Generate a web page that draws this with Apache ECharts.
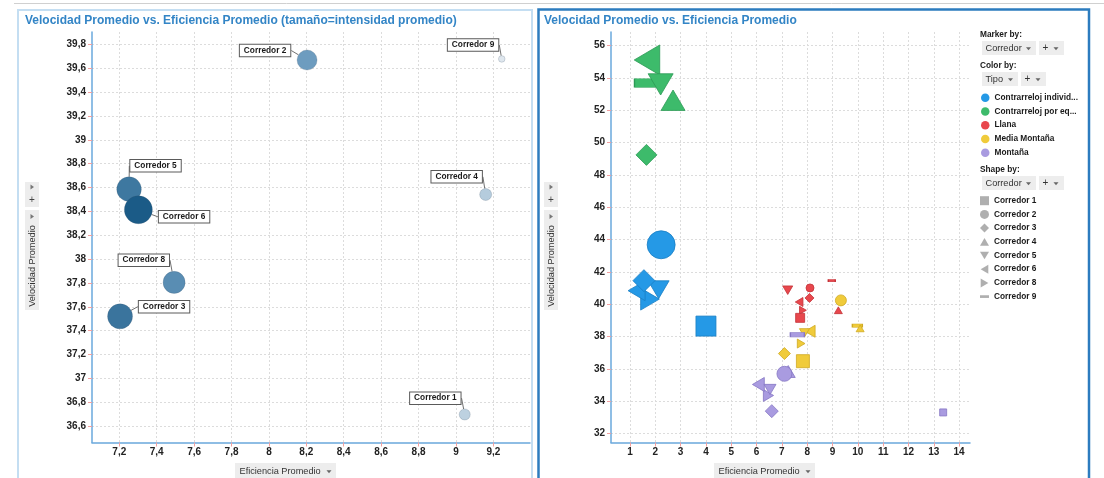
<!DOCTYPE html>
<html>
<head>
<meta charset="utf-8">
<script src="https://cdn.jsdelivr.net/npm/echarts@6/dist/echarts.min.js"></script>
<style>
  html, body { margin: 0; padding: 0; background: #fff; }
  #c { width: 1104px; height: 478px; }
</style>
</head>
<body>
<div id="c"></div>
<script>
// ---- Datos ----
const corredores = ['Corredor 1', 'Corredor 2', 'Corredor 3', 'Corredor 4', 'Corredor 5', 'Corredor 6', 'Corredor 8', 'Corredor 9'];
const tipos = ['Contrarreloj individual', 'Contrarreloj por equipos', 'Llana', 'Media Montaña', 'Montaña'];

// Promedios globales por corredor (panel izquierdo)
const eficienciaProm = [9.047, 8.204, 7.204, 9.159, 7.252, 7.302, 7.493, 9.245];
const velocidadProm  = [36.697, 39.670, 37.520, 38.542, 38.587, 38.414, 37.805, 39.679];
const intensidadProm = [0.610, 0.732, 0.799, 0.623, 0.794, 0.840, 0.759, 0.550];

// Marcas de los ejes
const ticksEficienciaIzq = [7.2, 7.4, 7.6, 7.8, 8, 8.2, 8.4, 8.6, 8.8, 9, 9.2];
const ticksVelocidadIzq  = [36.6, 36.8, 37, 37.2, 37.4, 37.6, 37.8, 38, 38.2, 38.4, 38.6, 38.8, 39, 39.2, 39.4, 39.6, 39.8];
const ticksEficienciaDer = [1, 2, 3, 4, 5, 6, 7, 8, 9, 10, 11, 12, 13, 14];
const ticksVelocidadDer  = [32, 34, 36, 38, 40, 42, 44, 46, 48, 50, 52, 54, 56];

// Promedios por tipo de etapa (panel derecho), en el orden de "corredores"; null = sin datos
const efCRI  = [4.00, 2.23, 1.55, null, 2.13, 1.26, 1.79, null];
const velCRI = [38.64, 43.67, 41.45, null, 40.89, 40.83, 40.31, null];
const tamCRI = [10, 14, 11, null, 10.5, 10, 11, null];

const efCRE  = [null, null, 1.65, 2.70, 2.21, 1.67, null, 1.71];
const velCRE = [null, null, 49.23, 52.61, 53.59, 55.10, null, 53.68];
const tamCRE = [null, null, 10.5, 12, 12.5, 15, null, 13.5];

const efLlana  = [7.72, 8.11, 8.09, 9.23, 7.23, 7.68, 7.83, 8.97];
const velLlana = [39.15, 41.00, 40.38, 39.62, 40.86, 40.13, 39.62, 41.45];
const tamLlana = [4.5, 4, 4.5, 4, 5, 4.5, 4, 3.5];

const efMedia  = [7.83, 9.33, 7.10, 10.09, 7.89, 8.11, 7.76, 9.98];
const velMedia = [36.47, 40.23, 36.94, 38.50, 38.22, 38.32, 37.56, 38.67];
const tamMedia = [6.5, 5.5, 6, 4, 5, 6, 4.5, 5];

const efMontana  = [13.37, 7.10, 6.60, 7.25, 6.53, 6.07, 6.47, 7.61];
const velMontana = [33.30, 35.69, 33.38, 35.83, 34.72, 35.03, 34.35, 38.11];
const tamMontana = [3.5, 7.5, 6.5, 7, 6, 7, 6, 7];

// ---- Estilo ----
const FONT = 'Arial, "Liberation Sans", Helvetica, sans-serif';
const coloresTipo = ['#2599e6', '#3dbb6b', '#e8474d', '#f0cb3b', '#a99be0'];
const bordesTipo  = ['#1a7fc4', '#2c9a55', '#c33338', '#cfaa22', '#8677c4'];

// Forma de marcador para cada corredor
const formaCorredor = [
  { symbol: 'rect', rot: 0, ratio: 1 },          // cuadrado
  { symbol: 'circle', rot: 0, ratio: 1 },
  { symbol: 'diamond', rot: 0, ratio: 1 },
  { symbol: 'triangle', rot: 0, ratio: 0.85 },    // arriba
  { symbol: 'triangle', rot: 180, ratio: 0.85 },  // abajo
  { symbol: 'triangle', rot: 90, ratio: 0.85 },   // izquierda
  { symbol: 'triangle', rot: -90, ratio: 0.85 },  // derecha
  { symbol: 'rect', rot: 0, ratio: 0.32 }         // guion
];
// Iconos de la leyenda de formas (ya orientados)
const iconoCorredor = [
  'rect', 'circle', 'diamond',
  'path://M5,0L10,8.5H0Z',
  'path://M0,0H10L5,8.5Z',
  'path://M8.5,0V10L0,5Z',
  'path://M0,0V10L8.5,5Z',
  'path://M0,0H10V3H0Z'
];
const escalaTamano = v => v * 2;

// Desplazamiento de cada etiqueta respecto a su burbuja
const desplEtiqueta = [[-29.4, -16.3], [-42, -9.5], [44, -9.7], [-29, -17.7], [26.5, -23.3], [45.7, 7], [-30.3, -22.2], [-28.7, -14]];

const fmtComa = v => String(Math.round(v * 10) / 10).replace('.', ',');

function puntosTipo(ef, vel, tam) {
  const out = [];
  // se dibujan del último corredor al primero
  for (let i = corredores.length - 1; i >= 0; i--) {
    if (ef[i] == null) continue;
    const f = formaCorredor[i];
    const s = escalaTamano(tam[i]);
    out.push({
      name: corredores[i],
      value: [ef[i], vel[i]],
      symbol: f.symbol,
      symbolRotate: f.rot,
      symbolSize: [s, s * f.ratio]
    });
  }
  return out;
}

const seriesTipo = [
  [efCRI, velCRI, tamCRI],
  [efCRE, velCRE, tamCRE],
  [efLlana, velLlana, tamLlana],
  [efMedia, velMedia, tamMedia],
  [efMontana, velMontana, tamMontana]
].map((d, k) => ({
  type: 'scatter',
  name: tipos[k],
  xAxisIndex: 1,
  yAxisIndex: 1,
  data: puntosTipo(d[0], d[1], d[2]),
  itemStyle: { color: coloresTipo[k], borderColor: bordesTipo[k], borderWidth: 0.8, opacity: 1 },
  emphasis: { disabled: true },
  z: 3
}));

// Series vacías que sólo alimentan la leyenda de formas
const seriesForma = corredores.map((c, i) => ({
  type: 'scatter',
  name: c,
  xAxisIndex: 1,
  yAxisIndex: 1,
  data: [],
  symbol: iconoCorredor[i],
  symbolKeepAspect: true,
  itemStyle: { color: '#9b9b9b', borderWidth: 0 }
}));

const datosGlobal = corredores.map((c, i) => ({ name: c, value: [eficienciaProm[i], velocidadProm[i], intensidadProm[i]] }));

// ---- Ejes ----
function ejeValor(gridIndex, min, max, ticks, fmt, isY) {
  return {
    type: 'value',
    gridIndex,
    min, max,
    axisLine: { show: true, onZero: false, lineStyle: { color: '#6aa8dc', width: 1.5 } },
    axisTick: { show: true, customValues: ticks, length: 4, lineStyle: { color: '#f2a0a0', width: 1 } },
    axisLabel: {
      customValues: ticks,
      formatter: fmt,
      color: '#222',
      fontSize: 10,
      fontWeight: 'bold',
      fontFamily: FONT,
      margin: isY ? 6 : 5
    },
    splitLine: { show: true, lineStyle: { color: '#dcdcdc', type: [2, 2], width: 1 } }
  };
}

// ---- Elementos gráficos de la interfaz ----
function txt(x, y, s, font, fill, align) {
  const a = align || 'left';
  return {
    type: 'text', x, y, silent: true,
    style: { text: s, x: 0, y: 0, fill: fill || '#333', font: font, align: a, verticalAlign: 'middle', textAlign: a, textVerticalAlign: 'middle' }
  };
}
function caja(x, y, w, h, fill) {
  return { type: 'rect', silent: true, shape: { x, y, width: w, height: h }, style: { fill: fill || '#ededed' } };
}
function flechaAbajo(cx, cy) {
  return { type: 'polygon', silent: true, shape: { points: [[cx - 2.5, cy - 1.3], [cx + 2.5, cy - 1.3], [cx, cy + 1.7]] }, style: { fill: '#666' } };
}
function flechaDerecha(cx, cy) {
  return { type: 'polygon', silent: true, shape: { points: [[cx - 1.5, cy - 2.5], [cx + 2, cy], [cx - 1.5, cy + 2.5]] }, style: { fill: '#777' } };
}
function controlEjeY(x0) {
  const cx = x0 + 7;
  return [
    caja(x0, 182, 14, 25),
    flechaDerecha(cx, 187),
    txt(cx, 200.5, '+', '10px ' + FONT, '#444', 'center'),
    caja(x0, 210, 14, 100),
    flechaDerecha(cx, 216.5),
    {
      type: 'text', x: cx, y: 266, rotation: Math.PI / 2, silent: true,
      style: { text: 'Velocidad Promedio', x: 0, y: 0, fill: '#333', font: '9.2px ' + FONT, align: 'center', verticalAlign: 'middle', textAlign: 'center', textVerticalAlign: 'middle' }
    }
  ];
}
function controlEjeX(x0) {
  return [
    caja(x0, 463, 101, 16),
    txt(x0 + 4.5, 471.5, 'Eficiencia Promedio', '9.2px ' + FONT, '#333'),
    flechaAbajo(x0 + 94, 471.5)
  ];
}
function desplegable(x, y, w, etiqueta) {
  return [
    caja(x, y, w, 14),
    txt(x + 3.5, y + 7, etiqueta, '9.2px ' + FONT, '#333'),
    flechaAbajo(x + w - 7.5, y + 7.5),
    caja(x + w + 3, y, 25, 14),
    txt(x + w + 6.5, y + 7, '+', '10px ' + FONT, '#333'),
    flechaAbajo(x + w + 20, y + 7.5)
  ];
}

const elementos = [
  { type: 'line', silent: true, shape: { x1: 14, y1: 3.5, x2: 1104, y2: 3.5 }, style: { stroke: '#d0d0d0', lineWidth: 1 } },
  { type: 'rect', silent: true, z: -10, shape: { x: 18, y: 10, width: 514, height: 475 }, style: { fill: 'none', stroke: '#c4def2', lineWidth: 2 } },
  { type: 'rect', silent: true, z: -10, shape: { x: 538.5, y: 9.5, width: 550.5, height: 475 }, style: { fill: 'none', stroke: '#2c7cbf', lineWidth: 2.5 } },
  txt(25, 21, 'Velocidad Promedio vs. Eficiencia Promedio (tamaño=intensidad promedio)', 'bold 12px ' + FONT, '#3385c6'),
  txt(544, 21, 'Velocidad Promedio vs. Eficiencia Promedio', 'bold 12px ' + FONT, '#3385c6'),
  ...controlEjeY(25),
  ...controlEjeY(544),
  ...controlEjeX(235),
  ...controlEjeX(714),
  txt(980, 34.5, 'Marker by:', 'bold 8.3px ' + FONT, '#1a1a1a'),
  ...desplegable(982, 41, 54, 'Corredor'),
  txt(980, 65.5, 'Color by:', 'bold 8.3px ' + FONT, '#1a1a1a'),
  ...desplegable(982, 72, 36, 'Tipo'),
  txt(980, 169.5, 'Shape by:', 'bold 8.3px ' + FONT, '#1a1a1a'),
  ...desplegable(982, 176, 54, 'Corredor')
];

// ---- Gráfico ----
const chart = echarts.init(document.getElementById('c'), null, { renderer: 'canvas' });
chart.setOption({
  backgroundColor: '#ffffff',
  animation: false,
  textStyle: { fontFamily: FONT },
  grid: [
    { left: 92, top: 32, right: 574, bottom: 35.5, containLabel: false },
    { left: 611, top: 32, right: 134, bottom: 35.5, containLabel: false }
  ],
  xAxis: [
    ejeValor(0, 7.054, 9.396, ticksEficienciaIzq, fmtComa, false),
    ejeValor(1, 0.249, 14.43, ticksEficienciaDer, v => String(v), false)
  ],
  yAxis: [
    ejeValor(0, 36.462, 39.905, ticksVelocidadIzq, fmtComa, true),
    ejeValor(1, 31.44, 56.83, ticksVelocidadDer, v => String(v), true)
  ],
  visualMap: [{
    show: false,
    type: 'continuous',
    seriesIndex: 0,
    dimension: 2,
    min: 0.55,
    max: 0.84,
    inRange: {
      color: ['#dfe7ee', '#a8c3d8', '#6597bc', '#1b5b87'],
      symbolSize: [6.6, 28]
    }
  }],
  legend: [
    {
      data: tipos,
      orient: 'vertical',
      left: 981, top: 92.7,
      padding: 0,
      icon: 'circle',
      itemWidth: 8.5, itemHeight: 8.5, itemGap: 3.75,
      itemStyle: { borderWidth: 0 },
      selectedMode: false,
      textStyle: { fontSize: 8.3, fontWeight: 'bold', color: '#1a1a1a', fontFamily: FONT, lineHeight: 10, width: 86, overflow: 'truncate', ellipsis: '...' }
    },
    {
      data: corredores.map((c, i) => ({ name: c, icon: iconoCorredor[i] })),
      orient: 'vertical',
      left: 980, top: 195.7,
      padding: 0,
      itemWidth: 9, itemHeight: 9, itemGap: 3.7,
      symbolRotate: 0,
      symbolKeepAspect: true,
      itemStyle: { borderWidth: 0 },
      selectedMode: false,
      textStyle: { fontSize: 8.3, fontWeight: 'bold', color: '#1a1a1a', fontFamily: FONT, lineHeight: 10 }
    }
  ],
  graphic: { elements: elementos },
  series: [
    {
      type: 'scatter',
      name: 'Global',
      xAxisIndex: 0,
      yAxisIndex: 0,
      data: datosGlobal,
      itemStyle: { borderColor: 'rgba(60,80,100,0.25)', borderWidth: 0.8, opacity: 1 },
      emphasis: { disabled: true },
      label: {
        show: true,
        position: 'inside',
        formatter: p => p.name,
        backgroundColor: '#ffffff',
        borderColor: '#5a5a5a',
        borderWidth: 1,
        padding: [2, 4, 1.5, 4],
        color: '#1a1a1a',
        fontSize: 8.3,
        fontWeight: 'bold',
        fontFamily: FONT
      },
      labelLine: { show: true, lineStyle: { color: '#707070', width: 1 } },
      labelLayout: p => ({ dx: desplEtiqueta[p.dataIndex][0], dy: desplEtiqueta[p.dataIndex][1] }),
      z: 3
    },
    ...seriesTipo,
    ...seriesForma
  ]
});
</script>
</body>
</html>
